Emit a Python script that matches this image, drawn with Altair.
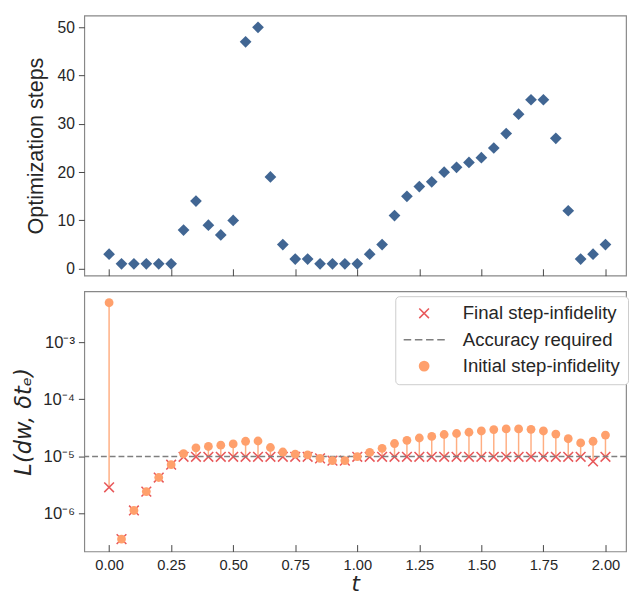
import altair as alt
import pandas as pd

t_vals = [0.00, 0.05, 0.10, 0.15, 0.20, 0.25, 0.30, 0.35, 0.40, 0.45,
          0.50, 0.55, 0.60, 0.65, 0.70, 0.75, 0.80, 0.85, 0.90, 0.95,
          1.00, 1.05, 1.10, 1.15, 1.20, 1.25, 1.30, 1.35, 1.40, 1.45,
          1.50, 1.55, 1.60, 1.65, 1.70, 1.75, 1.80, 1.85, 1.90, 1.95, 2.00]

steps = [3, 1, 1, 1, 1, 1, 8, 14, 9, 7,
         10, 47, 50, 19, 5, 2, 2, 1, 1, 1,
         1, 3, 5, 11, 15, 17, 18, 20, 21, 22,
         23, 25, 28, 32, 35, 35, 27, 12, 2, 3, 5]

initial = [4.9e-3, 3.6e-7, 1.14e-6, 2.44e-6, 4.3e-6, 7.2e-6, 1.12e-5, 1.42e-5, 1.5e-5, 1.58e-5,
           1.66e-5, 1.85e-5, 1.87e-5, 1.44e-5, 1.2e-5, 1.1e-5, 1.07e-5, 9.3e-6, 8.5e-6, 8.5e-6,
           1.0e-5, 1.18e-5, 1.39e-5, 1.69e-5, 1.92e-5, 2.11e-5, 2.25e-5, 2.43e-5, 2.53e-5, 2.66e-5,
           2.8e-5, 2.96e-5, 3.04e-5, 3.04e-5, 2.99e-5, 2.8e-5, 2.47e-5, 2.05e-5, 1.73e-5, 1.85e-5, 2.37e-5]

final = [2.9e-6, 3.6e-7, 1.14e-6, 2.44e-6, 4.3e-6, 7.2e-6, 9.9e-6, 9.9e-6, 9.9e-6, 9.9e-6,
         9.9e-6, 9.9e-6, 9.9e-6, 9.9e-6, 9.9e-6, 9.9e-6, 9.9e-6, 9.3e-6, 8.5e-6, 8.5e-6,
         9.9e-6, 9.9e-6, 9.9e-6, 9.9e-6, 9.9e-6, 9.9e-6, 9.9e-6, 9.9e-6, 9.9e-6, 9.9e-6,
         9.9e-6, 9.9e-6, 9.9e-6, 9.9e-6, 9.9e-6, 9.9e-6, 9.9e-6, 9.9e-6, 9.9e-6, 8.2e-6, 9.9e-6]

accuracy = [1e-5]

series = ["Final step-infidelity", "Accuracy required", "Initial step-infidelity"]
series_colors = ["#e8585a", "#7f7f7f", "#ffa06c"]

x_ticks = [0.0, 0.25, 0.5, 0.75, 1.0, 1.25, 1.5, 1.75, 2.0]
steps_ticks = [0, 10, 20, 30, 40, 50]
log_ticks = [1e-6, 1e-5, 1e-4, 1e-3]

df = pd.DataFrame({"t": t_vals, "steps": steps, "initial": initial, "final": final})
df_acc = pd.DataFrame({"level": accuracy, "s": [series[1]]})

X_PATH = "M-1,-0.8L-0.8,-1L1,0.8L0.8,1Z M-1,0.8L0.8,-1L1,-0.8L-0.8,1Z"
DASH_PATH = ("M-3.8,-0.14L-2.4,-0.14L-2.4,0.14L-3.8,0.14Z "
             "M-1.72,-0.14L-0.32,-0.14L-0.32,0.14L-1.72,0.14Z "
             "M0.36,-0.14L1.76,-0.14L1.76,0.14L0.36,0.14Z "
             "M2.44,-0.14L3.84,-0.14L3.84,0.14L2.44,0.14Z")

FONT = "Liberation Sans"
W, H = 554, 266
GAP = 13

xscale = alt.Scale(domain=[-0.1, 2.083], nice=False, zero=False)

top_x_axis = alt.Axis(values=x_ticks, labels=False, title=None, domain=False,
                      ticks=True, tickSize=7, offset=-7, grid=False, tickColor="#444")
bottom_x_axis = alt.Axis(values=x_ticks, format=".2f", title="t", domain=False,
                         ticks=True, tickSize=7, offset=-7, grid=False, tickColor="#444",
                         labelPadding=6, labelFontSize=15, labelColor="#262626",
                         titleFont="DejaVu Sans", titleFontStyle="italic",
                         titleFontSize=22, titleFontWeight="normal", titlePadding=2,
                         titleColor="#262626")

top = alt.Chart(df).mark_point(shape="diamond", filled=True, size=144,
                               color="#416693", opacity=1).encode(
    x=alt.X("t:Q", scale=xscale, axis=top_x_axis),
    y=alt.Y("steps:Q",
            scale=alt.Scale(domain=[-1.45, 52.45], nice=False, zero=False),
            axis=alt.Axis(values=steps_ticks, title="Optimization steps", domain=False,
                          ticks=True, tickSize=6, tickColor="#444", grid=False,
                          labelFontSize=16, labelColor="#262626", labelPadding=4,
                          titleFontSize=22, titleFontWeight="normal", titleColor="#262626",
                          titlePadding=10)),
).properties(width=W, height=H)

yscale = alt.Scale(type="log", domain=[2.19e-7, 7.76e-3], nice=False)
y_axis = alt.Axis(values=log_ticks, title="L(dw, δtₑ)", domain=False, ticks=True,
                  tickSize=6, tickColor="#444", grid=False, labelFontSize=17,
                  labelColor="#262626", labelPadding=4,
                  labelExpr="'10⁻' + ['⁰','¹','²','³','⁴','⁵','⁶','⁷','⁸','⁹'][-round(log(datum.value)/LN10)]",
                  titleFont="DejaVu Sans", titleFontStyle="italic", titleFontSize=23,
                  titleFontWeight="normal", titleColor="#262626", titlePadding=8)

color_scale = alt.Scale(domain=series, range=series_colors)
shape_scale = alt.Scale(domain=series, range=[X_PATH, DASH_PATH, "circle"])
legend = alt.Legend(title=None, orient="none", legendX=318, legendY=H + GAP + 8,
                    symbolSize=121, labelFontSize=19, labelColor="#262626",
                    labelLimit=400, rowPadding=7, padding=8, symbolOffset=12,
                    labelOffset=30, strokeColor="#cccccc", cornerRadius=4,
                    fillColor="white", symbolStrokeWidth=0)

base = alt.Chart(df).encode(x=alt.X("t:Q", scale=xscale, axis=bottom_x_axis))

stems = base.mark_rule(color="#ffa06c", strokeWidth=1.5, opacity=0.85).encode(
    y=alt.Y("final:Q", scale=yscale, axis=y_axis),
    y2="initial:Q",
)

crosses = base.transform_calculate(s=f"'{series[0]}'").mark_point(
    filled=True, size=121, opacity=1).encode(
    y=alt.Y("final:Q", scale=yscale, axis=y_axis),
    color=alt.Color("s:N", scale=color_scale, legend=legend),
    shape=alt.Shape("s:N", scale=shape_scale, legend=legend),
)

acc_line = alt.Chart(df_acc).mark_rule(strokeDash=[6, 3], strokeWidth=1.5).encode(
    y=alt.Y("level:Q", scale=yscale, axis=y_axis),
    color=alt.Color("s:N", scale=color_scale, legend=legend),
)

circles = base.transform_calculate(s=f"'{series[2]}'").mark_point(
    filled=True, size=81, opacity=1).encode(
    y=alt.Y("initial:Q", scale=yscale, axis=y_axis),
    color=alt.Color("s:N", scale=color_scale, legend=legend),
    shape=alt.Shape("s:N", scale=shape_scale, legend=legend),
)

bottom = alt.layer(stems, crosses, acc_line, circles).properties(width=W, height=H)

chart = alt.vconcat(top, bottom, spacing=GAP).properties(
    padding={"left": 4, "top": 0, "right": 0, "bottom": 0}
).configure(font=FONT).configure_view(stroke="#888888", strokeWidth=1.2)

chart.save("out.html", embed_options={"renderer": "svg", "actions": False})
